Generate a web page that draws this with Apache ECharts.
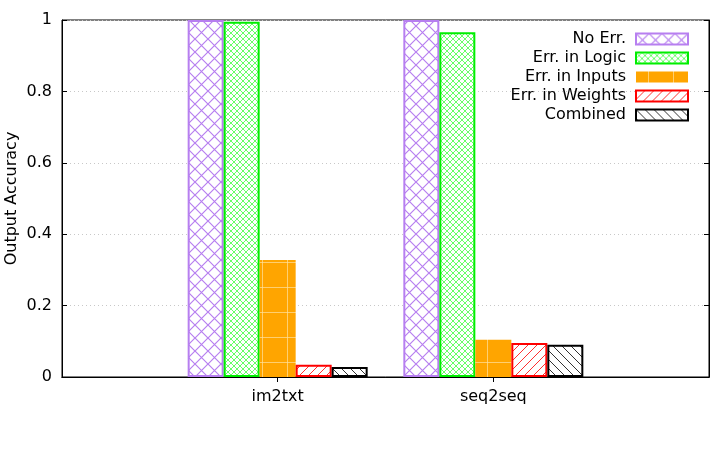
<!DOCTYPE html>
<html>
<head>
<meta charset="utf-8">
<script src="https://cdn.jsdelivr.net/npm/echarts@6/dist/echarts.min.js"></script>
<style>
  html, body { margin: 0; padding: 0; background: #fff; }
  #chart { width: 713px; height: 450px; }
</style>
</head>
<body>
<div id="chart"></div>
<script>
// data
const categories = ['', 'im2txt', 'seq2seq', ''];
const seriesNames = ['No Err.', 'Err. in Logic', 'Err. in Inputs', 'Err. in Weights', 'Combined'];
const noErr = [null, 1.0, 1.0, null];
const errLogic = [null, 0.995, 0.966, null];
const errInputs = [null, 0.328, 0.104, null];
const errWeights = [null, 0.034, 0.095, null];
const combined = [null, 0.028, 0.09, null];

// pattern tiles (gnuplot-like fills)
function tile(size, draw) {
  const c = document.createElement('canvas');
  c.width = size; c.height = size;
  const ctx = c.getContext('2d');
  draw(ctx, size);
  return { image: c, repeat: 'repeat' };
}
function cross(color, size, lw) {
  return tile(size, (ctx, s) => {
    ctx.fillStyle = '#fff';
    ctx.fillRect(0, 0, s, s);
    ctx.strokeStyle = color;
    ctx.lineWidth = lw;
    ctx.beginPath();
    ctx.moveTo(0, 0); ctx.lineTo(s, s);
    ctx.moveTo(s, 0); ctx.lineTo(0, s);
    ctx.stroke();
  });
}
function hatch(color, size, dir) {
  return tile(size, (ctx, s) => {
    ctx.fillStyle = '#fff';
    ctx.fillRect(0, 0, s, s);
    ctx.strokeStyle = color;
    ctx.lineWidth = 1;
    ctx.beginPath();
    if (dir > 0) {
      ctx.moveTo(0, s); ctx.lineTo(s, 0);
      ctx.moveTo(-s, s); ctx.lineTo(s, -s);
      ctx.moveTo(0, 2 * s); ctx.lineTo(2 * s, 0);
    } else {
      ctx.moveTo(0, 0); ctx.lineTo(s, s);
      ctx.moveTo(-s, 0); ctx.lineTo(s, 2 * s);
      ctx.moveTo(0, -s); ctx.lineTo(2 * s, s);
    }
    ctx.stroke();
  });
}
const orangeFill = tile(25, (ctx, s) => {
  ctx.fillStyle = '#ffa500';
  ctx.fillRect(0, 0, s, s);
  ctx.strokeStyle = 'rgba(255,225,160,0.7)';
  ctx.lineWidth = 1;
  ctx.beginPath();
  ctx.moveTo(12.5, 0); ctx.lineTo(12.5, s);
  ctx.moveTo(0, 12.5); ctx.lineTo(s, 12.5);
  ctx.stroke();
});

const fills = [
  { color: cross('#b77ff0', 13, 1.2), border: '#b77ff0' },
  { color: cross('#40ff40', 6, 0.8), border: '#00ee00' },
  { color: orangeFill, border: '#ffa500' },
  { color: hatch('#ff3030', 9, 1), border: '#ff0000' },
  { color: hatch('#333', 9, -1), border: '#000' }
];
const values = [noErr, errLogic, errInputs, errWeights, combined];

const font = 'DejaVu Sans';
const chart = echarts.init(document.getElementById('chart'));

chart.setOption({
  animation: false,
  grid: {
    left: 62, right: 4, top: 20, bottom: 73,
    outerBoundsMode: 'none',
    containLabel: false,
    show: true, borderColor: '#000', borderWidth: 1
  },
  legend: {
    orient: 'vertical',
    right: 24, top: 31,
    padding: 0,
    align: 'right',
    icon: 'rect',
    itemWidth: 52, itemHeight: 11, itemGap: 3,
    textStyle: { fontFamily: font, fontSize: 16, color: '#000', padding: [0, 5, 0, 0] },
    data: seriesNames
  },
  xAxis: [
    {
      type: 'category',
      data: categories,
      boundaryGap: false,
      axisLine: { lineStyle: { color: '#000' } },
      axisTick: { inside: true, length: 5, lineStyle: { color: '#000' },
        interval: (i) => i === 1 || i === 2 },
      axisLabel: { fontFamily: font, fontSize: 16, color: '#000', margin: 12,
        interval: 0 },
      splitLine: { show: false }
    },
    {
      type: 'category',
      position: 'top',
      data: categories,
      boundaryGap: false,
      axisLine: { lineStyle: { color: '#000' } },
      axisTick: { inside: true, length: 5, lineStyle: { color: '#000' },
        interval: (i) => i === 1 || i === 2 },
      axisLabel: { show: false }
    }
  ],
  yAxis: [
    {
      type: 'value',
      min: 0, max: 1, interval: 0.2,
      name: 'Output Accuracy',
      nameLocation: 'middle',
      nameGap: 42,
      nameMoveOverlap: false,
      nameTextStyle: { fontFamily: font, fontSize: 16, color: '#000' },
      axisLine: { show: true, lineStyle: { color: '#000' } },
      axisTick: { show: true, inside: true, length: 5, lineStyle: { color: '#000' } },
      axisLabel: { fontFamily: font, fontSize: 16, color: '#000', margin: 10 },
      splitLine: { show: true, lineStyle: { color: '#c8c8c8', type: [1, 3] } }
    },
    {
      type: 'value',
      position: 'right',
      min: 0, max: 1, interval: 0.2,
      axisLine: { show: true, lineStyle: { color: '#000' } },
      axisTick: { show: true, inside: true, length: 5, lineStyle: { color: '#000' } },
      axisLabel: { show: false },
      splitLine: { show: false }
    }
  ],
  series: seriesNames.map((name, i) => ({
    name: name,
    type: 'bar',
    data: values[i],
    barWidth: 36,
    barGap: '0%',
    itemStyle: {
      color: fills[i].color,
      borderColor: fills[i].border,
      borderWidth: i === 2 ? 0 : 2
    }
  }))
});
</script>
</body>
</html>
